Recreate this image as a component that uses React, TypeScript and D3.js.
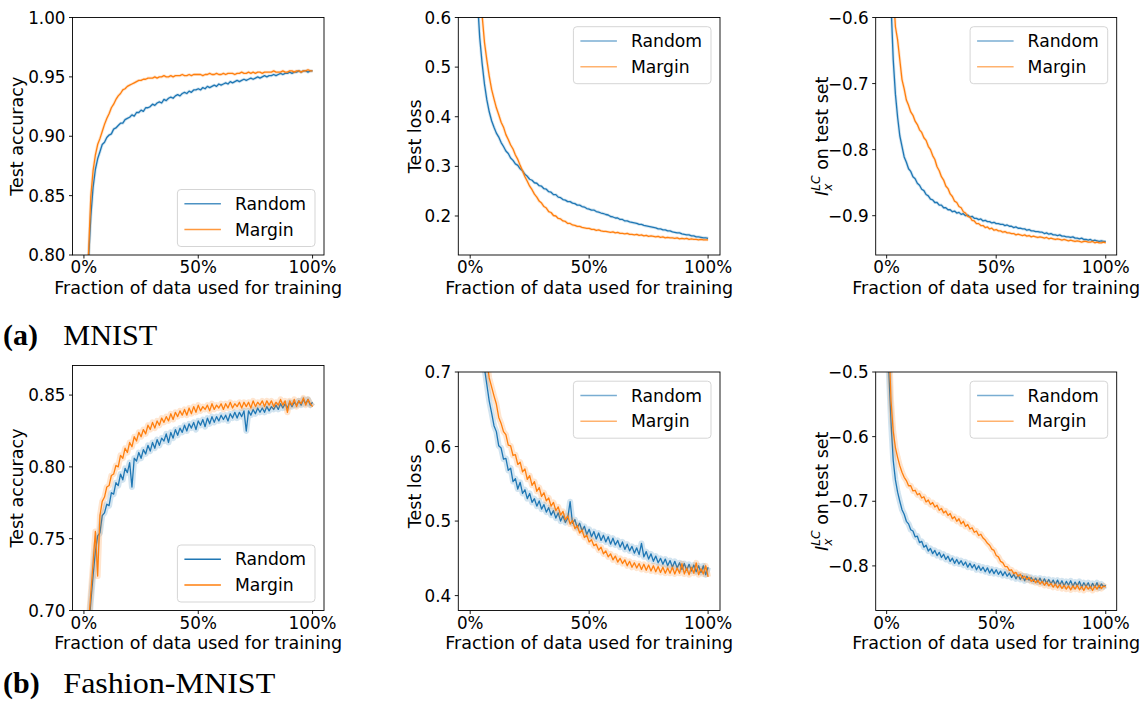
import React from "react";
import * as d3 from "d3";

// x grid: fraction of data used for training (1% .. 100%)
const FRACTIONS = d3.range(1, 101).map((i) => i / 100);
const SERIES_NAMES = ["Random", "Margin"];
const SERIES_COLORS = ["#1f77b4", "#ff7f0e"];
const X_TICKS = [0, 0.5, 1];
const X_TICK_LABELS = ["0%", "50%", "100%"];
const X_LABEL = "Fraction of data used for training";
const CAPTIONS = [
  ["(a)", "MNIST"],
  ["(b)", "Fashion-MNIST"],
];

const Y_TICKS_MNIST_ACC = [0.8, 0.85, 0.9, 0.95, 1.0];
const Y_TICKS_MNIST_LOSS = [0.2, 0.3, 0.4, 0.5, 0.6];
const Y_TICKS_MNIST_ILC = [-0.9, -0.8, -0.7, -0.6];
const Y_TICKS_FASHION_ACC = [0.7, 0.75, 0.8, 0.85];
const Y_TICKS_FASHION_LOSS = [0.4, 0.5, 0.6, 0.7];
const Y_TICKS_FASHION_ILC = [-0.8, -0.7, -0.6, -0.5];

const MNIST_ACC_RANDOM = [
  0.740, 0.795, 0.832, 0.857, 0.872, 0.881, 0.887, 0.893, 0.895, 0.899,
  0.901, 0.902, 0.906, 0.907, 0.909, 0.911, 0.911, 0.914, 0.915, 0.916,
  0.918, 0.917, 0.920, 0.920, 0.922, 0.921, 0.924, 0.924, 0.925, 0.927,
  0.926, 0.928, 0.929, 0.928, 0.931, 0.930, 0.932, 0.933, 0.932, 0.934,
  0.935, 0.934, 0.936, 0.937, 0.936, 0.938, 0.937, 0.939, 0.939, 0.940,
  0.939, 0.941, 0.940, 0.942, 0.941, 0.942, 0.943, 0.942, 0.944, 0.943,
  0.944, 0.945, 0.944, 0.946, 0.945, 0.946, 0.947, 0.946, 0.947, 0.948,
  0.947, 0.948, 0.949, 0.948, 0.949, 0.950, 0.949, 0.950, 0.951, 0.950,
  0.951, 0.951, 0.952, 0.951, 0.952, 0.953, 0.952, 0.953, 0.953, 0.954,
  0.953, 0.954, 0.954, 0.955, 0.954, 0.955, 0.955, 0.954, 0.955, 0.955,
];
const MNIST_ACC_MARGIN = [
  0.750, 0.800, 0.849, 0.871, 0.884, 0.893, 0.898, 0.904, 0.910, 0.915,
  0.919, 0.924, 0.927, 0.931, 0.934, 0.936, 0.939, 0.940, 0.942, 0.943,
  0.944, 0.945, 0.946, 0.947, 0.947, 0.948, 0.948, 0.949, 0.949, 0.949,
  0.950, 0.949, 0.950, 0.950, 0.951, 0.950, 0.950, 0.951, 0.950, 0.951,
  0.951, 0.951, 0.952, 0.951, 0.951, 0.952, 0.951, 0.952, 0.952, 0.952,
  0.952, 0.951, 0.952, 0.952, 0.953, 0.952, 0.952, 0.953, 0.952, 0.952,
  0.953, 0.952, 0.953, 0.953, 0.953, 0.952, 0.953, 0.953, 0.954, 0.953,
  0.953, 0.954, 0.953, 0.954, 0.953, 0.954, 0.954, 0.953, 0.954, 0.954,
  0.954, 0.954, 0.955, 0.954, 0.954, 0.954, 0.955, 0.954, 0.954, 0.955,
  0.955, 0.954, 0.955, 0.955, 0.954, 0.955, 0.955, 0.956, 0.955, 0.955,
];
const MNIST_LOSS_RANDOM = [
  0.950, 0.780, 0.640, 0.560, 0.508, 0.466, 0.434, 0.410, 0.392, 0.379,
  0.367, 0.359, 0.348, 0.340, 0.331, 0.326, 0.317, 0.312, 0.305, 0.302,
  0.295, 0.291, 0.284, 0.280, 0.274, 0.272, 0.267, 0.266, 0.261, 0.260,
  0.255, 0.254, 0.249, 0.248, 0.243, 0.243, 0.238, 0.237, 0.233, 0.232,
  0.229, 0.229, 0.226, 0.225, 0.222, 0.222, 0.219, 0.218, 0.215, 0.214,
  0.212, 0.212, 0.209, 0.208, 0.206, 0.205, 0.203, 0.202, 0.199, 0.198,
  0.196, 0.196, 0.193, 0.193, 0.190, 0.190, 0.188, 0.187, 0.186, 0.185,
  0.183, 0.183, 0.181, 0.180, 0.179, 0.178, 0.177, 0.176, 0.174, 0.174,
  0.172, 0.172, 0.170, 0.170, 0.168, 0.167, 0.166, 0.166, 0.164, 0.163,
  0.162, 0.162, 0.160, 0.160, 0.158, 0.158, 0.157, 0.156, 0.156, 0.155,
];
const MNIST_LOSS_MARGIN = [
  1.200, 0.980, 0.800, 0.680, 0.605, 0.550, 0.514, 0.482, 0.455, 0.436,
  0.418, 0.404, 0.389, 0.379, 0.364, 0.354, 0.343, 0.335, 0.323, 0.314,
  0.302, 0.291, 0.279, 0.270, 0.260, 0.253, 0.244, 0.238, 0.230, 0.226,
  0.219, 0.216, 0.209, 0.207, 0.201, 0.200, 0.195, 0.194, 0.190, 0.189,
  0.185, 0.185, 0.182, 0.181, 0.179, 0.179, 0.177, 0.176, 0.175, 0.175,
  0.173, 0.173, 0.171, 0.172, 0.170, 0.169, 0.169, 0.168, 0.167, 0.168,
  0.166, 0.167, 0.165, 0.165, 0.164, 0.165, 0.163, 0.163, 0.162, 0.163,
  0.161, 0.162, 0.160, 0.161, 0.159, 0.160, 0.159, 0.158, 0.159, 0.157,
  0.158, 0.156, 0.157, 0.156, 0.156, 0.155, 0.156, 0.154, 0.155, 0.154,
  0.155, 0.153, 0.154, 0.153, 0.153, 0.152, 0.153, 0.152, 0.152, 0.152,
];
const MNIST_ILC_RANDOM = [
  -0.250, -0.580, -0.664, -0.716, -0.751, -0.779, -0.795, -0.811, -0.819, -0.829,
  -0.833, -0.841, -0.844, -0.851, -0.854, -0.860, -0.862, -0.868, -0.870, -0.875,
  -0.876, -0.880, -0.880, -0.884, -0.884, -0.888, -0.888, -0.891, -0.891, -0.894,
  -0.893, -0.896, -0.895, -0.898, -0.897, -0.900, -0.899, -0.902, -0.901, -0.904,
  -0.904, -0.906, -0.905, -0.908, -0.907, -0.909, -0.909, -0.911, -0.910, -0.912,
  -0.912, -0.913, -0.913, -0.915, -0.914, -0.916, -0.916, -0.918, -0.917, -0.919,
  -0.919, -0.920, -0.920, -0.922, -0.921, -0.923, -0.923, -0.924, -0.924, -0.925,
  -0.925, -0.927, -0.926, -0.928, -0.927, -0.929, -0.929, -0.930, -0.929, -0.931,
  -0.931, -0.932, -0.932, -0.933, -0.932, -0.934, -0.934, -0.935, -0.934, -0.936,
  -0.936, -0.937, -0.936, -0.938, -0.937, -0.938, -0.939, -0.938, -0.939, -0.939,
];
const MNIST_ILC_MARGIN = [
  -0.300, -0.450, -0.560, -0.614, -0.634, -0.664, -0.694, -0.708, -0.725, -0.733,
  -0.743, -0.748, -0.757, -0.762, -0.770, -0.774, -0.782, -0.786, -0.795, -0.800,
  -0.809, -0.815, -0.826, -0.832, -0.841, -0.846, -0.855, -0.859, -0.867, -0.871,
  -0.878, -0.880, -0.886, -0.888, -0.894, -0.896, -0.901, -0.902, -0.907, -0.908,
  -0.912, -0.912, -0.915, -0.915, -0.918, -0.917, -0.920, -0.919, -0.922, -0.921,
  -0.923, -0.923, -0.925, -0.924, -0.926, -0.926, -0.927, -0.927, -0.929, -0.928,
  -0.929, -0.930, -0.929, -0.931, -0.930, -0.932, -0.931, -0.932, -0.933, -0.932,
  -0.933, -0.934, -0.933, -0.935, -0.934, -0.935, -0.936, -0.935, -0.936, -0.937,
  -0.936, -0.937, -0.938, -0.937, -0.938, -0.939, -0.938, -0.939, -0.940, -0.939,
  -0.939, -0.940, -0.940, -0.939, -0.941, -0.940, -0.941, -0.941, -0.940, -0.941,
];
const FASHION_ACC_RANDOM = [
  0.660, 0.685, 0.706, 0.724, 0.741, 0.752, 0.754, 0.766, 0.768, 0.774,
  0.773, 0.782, 0.781, 0.789, 0.787, 0.795, 0.791, 0.799, 0.796, 0.803,
  0.786, 0.806, 0.804, 0.810, 0.806, 0.812, 0.809, 0.815, 0.811, 0.817,
  0.813, 0.819, 0.815, 0.820, 0.818, 0.823, 0.817, 0.824, 0.820, 0.826,
  0.822, 0.827, 0.824, 0.829, 0.825, 0.830, 0.827, 0.831, 0.826, 0.832,
  0.829, 0.833, 0.828, 0.834, 0.830, 0.835, 0.831, 0.835, 0.832, 0.836,
  0.833, 0.836, 0.832, 0.837, 0.834, 0.838, 0.834, 0.838, 0.835, 0.839,
  0.825, 0.839, 0.836, 0.840, 0.837, 0.841, 0.838, 0.841, 0.838, 0.842,
  0.839, 0.842, 0.840, 0.843, 0.840, 0.844, 0.841, 0.844, 0.841, 0.845,
  0.842, 0.845, 0.843, 0.846, 0.843, 0.847, 0.844, 0.847, 0.843, 0.845,
];
const FASHION_ACC_MARGIN = [
  0.665, 0.690, 0.712, 0.733, 0.755, 0.724, 0.766, 0.776, 0.779, 0.786,
  0.787, 0.794, 0.795, 0.801, 0.800, 0.808, 0.806, 0.813, 0.810, 0.817,
  0.814, 0.821, 0.818, 0.824, 0.821, 0.826, 0.823, 0.829, 0.826, 0.831,
  0.827, 0.832, 0.829, 0.834, 0.831, 0.835, 0.832, 0.837, 0.833, 0.838,
  0.835, 0.839, 0.836, 0.840, 0.836, 0.841, 0.837, 0.842, 0.838, 0.843,
  0.839, 0.842, 0.840, 0.843, 0.839, 0.844, 0.840, 0.843, 0.841, 0.844,
  0.840, 0.844, 0.841, 0.845, 0.841, 0.844, 0.842, 0.845, 0.841, 0.845,
  0.842, 0.845, 0.841, 0.846, 0.842, 0.845, 0.843, 0.846, 0.842, 0.846,
  0.843, 0.846, 0.842, 0.845, 0.843, 0.847, 0.843, 0.846, 0.838, 0.846,
  0.843, 0.847, 0.842, 0.846, 0.844, 0.848, 0.843, 0.847, 0.844, 0.842,
];
const FASHION_LOSS_RANDOM = [
  1.000, 0.920, 0.850, 0.790, 0.750, 0.705, 0.683, 0.661, 0.645, 0.628,
  0.620, 0.601, 0.598, 0.583, 0.584, 0.568, 0.571, 0.553, 0.557, 0.543,
  0.552, 0.537, 0.542, 0.530, 0.537, 0.525, 0.530, 0.520, 0.527, 0.516,
  0.522, 0.512, 0.518, 0.508, 0.514, 0.504, 0.511, 0.500, 0.507, 0.498,
  0.504, 0.526, 0.497, 0.502, 0.491, 0.497, 0.487, 0.493, 0.482, 0.489,
  0.479, 0.486, 0.476, 0.484, 0.474, 0.481, 0.472, 0.479, 0.469, 0.477,
  0.468, 0.474, 0.465, 0.472, 0.462, 0.469, 0.460, 0.466, 0.457, 0.464,
  0.455, 0.470, 0.452, 0.459, 0.449, 0.456, 0.446, 0.453, 0.444, 0.450,
  0.442, 0.449, 0.440, 0.447, 0.438, 0.446, 0.437, 0.444, 0.435, 0.443,
  0.434, 0.442, 0.433, 0.441, 0.432, 0.440, 0.431, 0.440, 0.428, 0.438,
];
const FASHION_LOSS_MARGIN = [
  1.050, 0.970, 0.900, 0.840, 0.790, 0.745, 0.715, 0.692, 0.680, 0.668,
  0.657, 0.639, 0.631, 0.620, 0.616, 0.602, 0.601, 0.588, 0.589, 0.576,
  0.579, 0.566, 0.570, 0.556, 0.561, 0.548, 0.553, 0.540, 0.545, 0.533,
  0.538, 0.527, 0.531, 0.520, 0.525, 0.514, 0.519, 0.508, 0.513, 0.502,
  0.507, 0.496, 0.501, 0.490, 0.494, 0.484, 0.488, 0.478, 0.481, 0.472,
  0.475, 0.467, 0.469, 0.461, 0.465, 0.456, 0.460, 0.452, 0.456, 0.448,
  0.453, 0.445, 0.450, 0.443, 0.448, 0.440, 0.446, 0.438, 0.444, 0.437,
  0.443, 0.435, 0.442, 0.434, 0.441, 0.433, 0.440, 0.432, 0.439, 0.431,
  0.438, 0.430, 0.437, 0.430, 0.438, 0.429, 0.437, 0.430, 0.443, 0.429,
  0.437, 0.428, 0.438, 0.430, 0.444, 0.428, 0.436, 0.429, 0.440, 0.425,
];
const FASHION_ILC_RANDOM = [
  -0.500, -0.578, -0.637, -0.667, -0.686, -0.700, -0.713, -0.720, -0.731, -0.735,
  -0.744, -0.746, -0.755, -0.754, -0.764, -0.762, -0.771, -0.768, -0.777, -0.773,
  -0.781, -0.776, -0.784, -0.779, -0.787, -0.782, -0.790, -0.785, -0.793, -0.788,
  -0.796, -0.790, -0.797, -0.792, -0.799, -0.794, -0.802, -0.796, -0.803, -0.798,
  -0.806, -0.800, -0.807, -0.802, -0.809, -0.803, -0.811, -0.805, -0.812, -0.806,
  -0.813, -0.808, -0.815, -0.809, -0.816, -0.811, -0.818, -0.813, -0.820, -0.814,
  -0.821, -0.815, -0.823, -0.816, -0.822, -0.818, -0.824, -0.819, -0.825, -0.819,
  -0.826, -0.820, -0.827, -0.821, -0.828, -0.822, -0.829, -0.822, -0.830, -0.823,
  -0.831, -0.824, -0.830, -0.823, -0.832, -0.825, -0.831, -0.824, -0.833, -0.826,
  -0.832, -0.826, -0.834, -0.827, -0.833, -0.826, -0.834, -0.828, -0.832, -0.830,
];
const FASHION_ILC_MARGIN = [
  -0.450, -0.545, -0.592, -0.617, -0.632, -0.645, -0.655, -0.663, -0.668, -0.676,
  -0.676, -0.684, -0.683, -0.690, -0.688, -0.695, -0.693, -0.701, -0.698, -0.705,
  -0.702, -0.709, -0.706, -0.714, -0.711, -0.718, -0.715, -0.722, -0.719, -0.727,
  -0.724, -0.731, -0.727, -0.735, -0.731, -0.739, -0.736, -0.743, -0.741, -0.748,
  -0.746, -0.753, -0.751, -0.757, -0.760, -0.765, -0.768, -0.774, -0.776, -0.784,
  -0.786, -0.793, -0.795, -0.801, -0.801, -0.807, -0.806, -0.812, -0.810, -0.816,
  -0.813, -0.819, -0.816, -0.821, -0.818, -0.824, -0.821, -0.826, -0.822, -0.828,
  -0.824, -0.830, -0.825, -0.831, -0.827, -0.833, -0.828, -0.834, -0.829, -0.835,
  -0.830, -0.836, -0.831, -0.837, -0.831, -0.836, -0.830, -0.837, -0.832, -0.838,
  -0.831, -0.836, -0.832, -0.838, -0.831, -0.836, -0.830, -0.835, -0.831, -0.833,
];

type PanelSpec = {
  left: number;
  right: number;
  top: number;
  bottom: number;
  yDomain: [number, number];
  yTicks: number[];
  fmt: string;
  ylabel: "acc" | "loss" | "ilc";
  ylabelX: number;
  legendPos: "top" | "bottom";
  legendAlpha: number;
  band: number;
  series: number[][];
};

const COLS = [
  { left: 72.5, right: 324 },
  { left: 458.3, right: 720 },
  { left: 875.7, right: 1116.7 },
];

const PANELS: PanelSpec[] = [
  { ...COLS[0], top: 17.5, bottom: 255, yDomain: [0.8, 1.0], yTicks: Y_TICKS_MNIST_ACC, fmt: ".2f", ylabel: "acc", ylabelX: 23, legendPos: "bottom", legendAlpha: 0.8, band: 3, series: [MNIST_ACC_RANDOM, MNIST_ACC_MARGIN] },
  { ...COLS[1], top: 17.5, bottom: 255, yDomain: [0.1214, 0.6], yTicks: Y_TICKS_MNIST_LOSS, fmt: ".1f", ylabel: "loss", ylabelX: 421, legendPos: "top", legendAlpha: 0.6, band: 3, series: [MNIST_LOSS_RANDOM, MNIST_LOSS_MARGIN] },
  { ...COLS[2], top: 17.5, bottom: 255, yDomain: [-0.9595, -0.6], yTicks: Y_TICKS_MNIST_ILC, fmt: ".1f", ylabel: "ilc", ylabelX: 828, legendPos: "top", legendAlpha: 0.6, band: 3, series: [MNIST_ILC_RANDOM, MNIST_ILC_MARGIN] },
  { ...COLS[0], top: 365.5, bottom: 610.5, yDomain: [0.7, 0.8706], yTicks: Y_TICKS_FASHION_ACC, fmt: ".2f", ylabel: "acc", ylabelX: 23, legendPos: "bottom", legendAlpha: 1, band: 6, series: [FASHION_ACC_RANDOM, FASHION_ACC_MARGIN] },
  { ...COLS[1], top: 372, bottom: 610.5, yDomain: [0.380, 0.7], yTicks: Y_TICKS_FASHION_LOSS, fmt: ".1f", ylabel: "loss", ylabelX: 421, legendPos: "top", legendAlpha: 0.6, band: 6, series: [FASHION_LOSS_RANDOM, FASHION_LOSS_MARGIN] },
  { ...COLS[2], top: 372, bottom: 610.5, yDomain: [-0.869, -0.5], yTicks: Y_TICKS_FASHION_ILC, fmt: ".1f", ylabel: "ilc", ylabelX: 828, legendPos: "top", legendAlpha: 0.6, band: 6, series: [FASHION_ILC_RANDOM, FASHION_ILC_MARGIN] },
];

const FONT = "DejaVu Sans";
const TICK_FS = 16.8;
const LABEL_FS = 17.5;
const LEGEND_FS = 17.2;

function YLabel({ kind, x, cy }: { kind: string; x: number; cy: number }) {
  const t = `translate(${x},${cy}) rotate(-90)`;
  if (kind === "ilc") {
    return (
      <text transform={t} textAnchor="middle" fontSize={LABEL_FS} fontFamily={FONT}>
        <tspan fontStyle="italic">I</tspan>
        <tspan fontStyle="italic" fontSize={12.2} dy={4}>x</tspan>
        <tspan fontStyle="italic" fontSize={12.2} dx={-7.2} dy={-12}>LC</tspan>
        <tspan dy={8}> on test set</tspan>
      </text>
    );
  }
  return (
    <text transform={t} textAnchor="middle" fontSize={LABEL_FS} fontFamily={FONT}>
      {kind === "acc" ? "Test accuracy" : "Test loss"}
    </text>
  );
}

function Panel({ p, idx }: { p: PanelSpec; idx: number }) {
  const x = d3.scaleLinear().domain([-0.05, 1.05]).range([p.left, p.right]);
  const y = d3.scaleLinear().domain(p.yDomain).range([p.bottom, p.top]);
  const line = d3
    .line<number>()
    .x((_, i) => x(FRACTIONS[i]))
    .y((d) => y(d));
  const fmt = d3.format(p.fmt);
  const clipId = `clip-${idx}`;
  const lw = 137.6;
  const lh = 57;
  const lx = p.right - 9 - lw;
  const ly = p.legendPos === "top" ? p.top + 9.2 : p.bottom - 8.5 - lh;
  const cy = (p.top + p.bottom) / 2;
  return (
    <g>
      <defs>
        <clipPath id={clipId}>
          <rect x={p.left} y={p.top} width={p.right - p.left} height={p.bottom - p.top} />
        </clipPath>
      </defs>
      <g clipPath={`url(#${clipId})`}>
        {p.series.map((s, si) => (
          <g key={si}>
            <path d={line(s) || ""} fill="none" stroke={SERIES_COLORS[si]} strokeOpacity={0.2} strokeWidth={p.band} strokeLinejoin="round" />
            <path d={line(s) || ""} fill="none" stroke={SERIES_COLORS[si]} strokeWidth={1.3} strokeLinejoin="round" />
          </g>
        ))}
      </g>
      <rect x={p.left} y={p.top} width={p.right - p.left} height={p.bottom - p.top} fill="none" stroke="#000" strokeWidth={0.9} />
      {p.yTicks.map((t) => (
        <g key={t}>
          <line x1={p.left - 3.5} x2={p.left} y1={y(t)} y2={y(t)} stroke="#000" strokeWidth={0.9} />
          <text x={p.left - 7} y={y(t)} dy="0.36em" textAnchor="end" fontSize={TICK_FS} fontFamily={FONT}>
            {fmt(t)}
          </text>
        </g>
      ))}
      {X_TICKS.map((t, i) => (
        <g key={t}>
          <line x1={x(t)} x2={x(t)} y1={p.bottom} y2={p.bottom + 3.5} stroke="#000" strokeWidth={0.9} />
          <text x={x(t)} y={p.bottom + 18.3} textAnchor="middle" fontSize={TICK_FS} fontFamily={FONT}>
            {X_TICK_LABELS[i]}
          </text>
        </g>
      ))}
      <text x={(p.left + p.right) / 2} y={p.bottom + 38.5} textAnchor="middle" fontSize={LABEL_FS} fontFamily={FONT}>
        {X_LABEL}
      </text>
      <YLabel kind={p.ylabel} x={p.ylabelX} cy={cy} />
      <rect x={lx} y={ly} width={lw} height={lh} rx={3.5} fill="#fff" fillOpacity={0.8} stroke="#d5d5d5" strokeWidth={1} />
      {SERIES_NAMES.map((name, si) => {
        const ry = ly + (si === 0 ? 14.3 : 40);
        return (
          <g key={name}>
            <line x1={lx + 7} x2={lx + 43.5} y1={ry} y2={ry} stroke={SERIES_COLORS[si]} strokeOpacity={p.legendAlpha} strokeWidth={1.5} />
            <text x={lx + 57.5} y={ry} dy="0.36em" fontSize={LEGEND_FS} fontFamily={FONT}>
              {name}
            </text>
          </g>
        );
      })}
    </g>
  );
}

export default function App() {
  return (
    <svg
      width={1141}
      height={704}
      viewBox="0 0 1141 704"
      style={{ position: "absolute", left: 0, top: 0, background: "#fff" }}
    >
      <rect x={0} y={0} width={1141} height={704} fill="#fff" />
      {PANELS.map((p, i) => (
        <Panel key={i} p={p} idx={i} />
      ))}
      {CAPTIONS.map(([tag, name], i) => {
        const by = i === 0 ? 345 : 693;
        return (
          <g key={tag}>
            <text x={3} y={by} fontSize={30} fontWeight="bold" fontFamily="Liberation Serif">
              {tag}
            </text>
            <text
              x={63.3}
              y={by}
              fontSize={30}
              fontFamily="Liberation Serif"
              textLength={i === 0 ? 94 : 212}
              lengthAdjust="spacingAndGlyphs"
            >
              {name}
            </text>
          </g>
        );
      })}
    </svg>
  );
}
